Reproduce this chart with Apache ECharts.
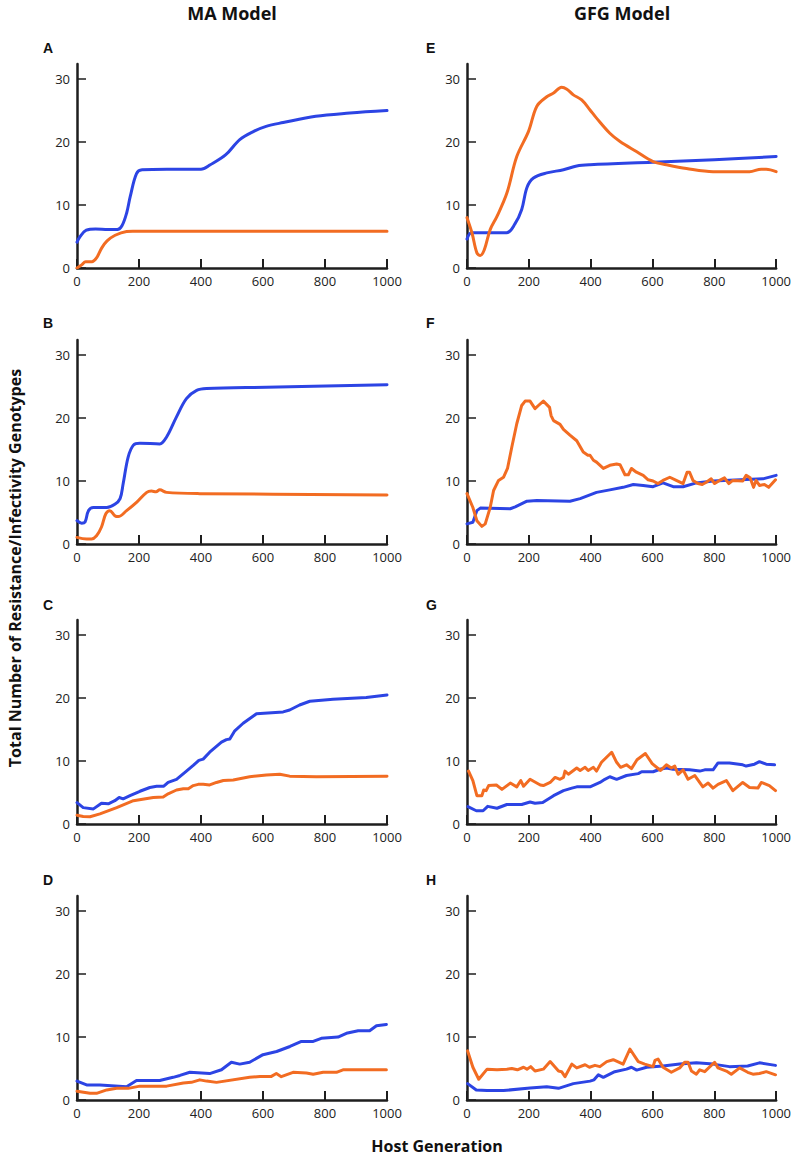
<!DOCTYPE html>
<html>
<head>
<meta charset="utf-8">
<script src="https://cdn.jsdelivr.net/npm/echarts@6/dist/echarts.min.js"></script>
<style>
html,body{margin:0;padding:0;background:#fff;}
#chart{width:794px;height:1160px;}
</style>
</head>
<body>
<div id="chart"></div>
<script>
// ---- Data: [host generation, number of genotypes] ----
const xTicks = [0, 200, 400, 600, 800, 1000];
const yTicks = [0, 10, 20, 30];
const panelLetters = ['A', 'B', 'C', 'D', 'E', 'F', 'G', 'H'];
const columnTitles = ['MA Model', 'GFG Model'];
const yTitle = 'Total Number of Resistance/Infectivity Genotypes';
const xTitle = 'Host Generation';

// MA model
const A_blue = [[0,4.1],[10,5.0],[30,6.0],[60,6.2],[100,6.1],[130,6.1],[145,6.7],[160,8.7],[172,11.4],[192,15.0],[210,15.6],[290,15.7],[350,15.7],[400,15.7],[430,16.4],[480,18.0],[525,20.4],[570,21.7],[610,22.5],[665,23.1],[770,24.1],[880,24.6],[1000,25.0]];
const A_orange = [[0,0],[15,0.5],[28,1.0],[48,1.0],[63,1.6],[80,3.2],[97,4.3],[123,5.2],[160,5.8],[180,5.85],[1000,5.85]];

const B_blue = [[0,3.7],[15,3.3],[26,3.5],[37,5.3],[53,5.8],[96,5.8],[122,6.3],[139,7.2],[149,9.6],[165,13.8],[182,15.7],[203,16.0],[267,15.9],[289,17.0],[321,20.2],[353,23.1],[386,24.4],[418,24.7],[611,24.9],[1000,25.3]];
const B_orange = [[0,1.06],[31,0.8],[47,0.8],[63,1.3],[79,2.7],[93,4.8],[106,5.3],[122,4.5],[133,4.35],[160,5.3],[192,6.6],[225,8.2],[240,8.4],[255,8.3],[267,8.6],[289,8.2],[396,8.0],[1000,7.8]];

const C_blue = [[0,3.4],[20,2.6],[53,2.4],[79,3.3],[101,3.2],[122,3.7],[136,4.2],[149,4.0],[171,4.5],[203,5.2],[235,5.8],[257,6.0],[280,6.0],[294,6.6],[321,7.1],[353,8.4],[375,9.3],[393,10.1],[407,10.3],[428,11.4],[466,13.0],[482,13.4],[493,13.5],[509,14.8],[536,16.0],[579,17.5],[665,17.8],[686,18.1],[718,18.9],[751,19.5],[826,19.8],[933,20.1],[1000,20.5]];
const C_orange = [[0,1.4],[20,1.2],[42,1.16],[74,1.6],[128,2.6],[182,3.7],[246,4.2],[278,4.3],[294,4.8],[321,5.4],[343,5.6],[359,5.6],[375,6.1],[391,6.3],[407,6.3],[428,6.2],[450,6.6],[472,6.9],[504,7.0],[557,7.5],[611,7.8],[654,7.9],[686,7.6],[772,7.5],[1000,7.6]];

const D_blue = [[0,3.0],[31,2.4],[74,2.4],[160,2.1],[192,3.1],[267,3.1],[310,3.6],[332,3.9],[364,4.4],[428,4.2],[466,4.8],[498,6.0],[525,5.7],[557,6.0],[600,7.2],[644,7.7],[687,8.5],[724,9.3],[762,9.3],[788,9.8],[842,10.0],[869,10.6],[907,11.0],[944,11.0],[966,11.8],[998,12.0]];
const D_orange = [[0,1.4],[42,1.06],[63,1.06],[96,1.6],[128,1.85],[165,1.85],[203,2.2],[289,2.2],[343,2.7],[369,2.8],[396,3.2],[418,3.0],[450,2.8],[557,3.6],[590,3.75],[627,3.75],[643,4.2],[659,3.7],[697,4.4],[740,4.3],[762,4.1],[794,4.4],[837,4.4],[858,4.8],[998,4.8]];

// GFG model
const E_blue = [[0,4.6],[15,5.6],[128,5.6],[155,7.0],[177,9.3],[194,12.8],[215,14.3],[258,15.1],[312,15.6],[355,16.2],[398,16.4],[600,16.8],[800,17.2],[1000,17.7]];
const E_orange = [[0,8.0],[16,5.6],[32,2.4],[43,2.0],[56,2.9],[75,6.1],[97,8.2],[129,11.9],[161,17.7],[199,21.7],[226,25.7],[258,27.2],[280,27.8],[306,28.7],[323,28.4],[344,27.5],[371,26.7],[398,25.1],[419,23.8],[462,21.4],[495,20.1],[548,18.5],[602,16.9],[645,16.4],[710,15.8],[796,15.3],[914,15.3],[952,15.7],[968,15.7],[1000,15.3]];

const F_blue = [[0,3.2],[19,3.45],[32,5.3],[43,5.7],[140,5.6],[156,5.9],[194,6.8],[226,6.9],[333,6.8],[366,7.2],[419,8.2],[462,8.6],[505,9.0],[538,9.45],[570,9.3],[602,9.1],[634,9.7],[667,9.1],[699,9.1],[742,9.7],[796,10.0],[903,10.25],[957,10.35],[1000,10.9]];
const F_orange = [[0,8.0],[19,5.8],[32,3.7],[48,2.8],[59,3.2],[75,5.8],[86,8.5],[102,10.1],[118,10.6],[131,12.0],[145,15.4],[161,19.1],[177,22.0],[188,22.7],[204,22.7],[220,21.5],[231,22.0],[247,22.7],[267,21.7],[272,20.4],[280,19.6],[301,19.0],[312,18.2],[333,17.3],[355,16.4],[376,14.6],[391,14.1],[398,14.1],[409,13.3],[419,13.0],[441,12.0],[462,12.5],[484,12.7],[495,12.6],[511,11.0],[522,11.0],[532,12.0],[548,11.4],[570,10.9],[586,10.2],[602,10.0],[618,9.6],[634,10.1],[656,10.6],[677,10.1],[699,9.6],[712,11.4],[720,11.4],[731,10.1],[747,9.6],[761,9.45],[774,9.8],[790,10.35],[801,9.6],[817,10.1],[833,10.5],[847,9.6],[860,10.1],[892,10.0],[903,10.9],[916,10.5],[927,9.0],[935,10.1],[946,9.3],[962,9.45],[976,9.0],[998,10.2]];

const G_blue = [[3,2.75],[30,2.1],[52,2.1],[67,2.8],[97,2.5],[129,3.1],[177,3.1],[204,3.5],[220,3.3],[245,3.4],[280,4.5],[312,5.3],[339,5.7],[355,5.9],[398,5.9],[430,6.6],[446,7.1],[462,7.5],[484,7.1],[516,7.7],[554,8.0],[565,8.3],[602,8.3],[624,8.7],[645,8.9],[667,8.7],[720,8.6],[753,8.4],[769,8.6],[796,8.6],[812,9.7],[849,9.7],[892,9.4],[903,9.2],[930,9.5],[946,9.9],[968,9.5],[995,9.4]];
const G_orange = [[5,8.4],[19,6.9],[32,4.5],[48,4.5],[54,5.4],[62,5.3],[70,6.1],[95,6.2],[113,5.5],[140,6.5],[161,5.9],[174,6.9],[183,6.0],[204,7.1],[237,6.2],[247,6.1],[269,6.6],[285,7.4],[301,7.1],[312,7.4],[317,8.4],[328,7.9],[355,8.9],[366,8.5],[382,9.0],[392,8.5],[409,9.0],[419,8.4],[435,9.8],[468,11.4],[484,9.8],[497,9.0],[516,9.4],[532,8.8],[550,10.2],[577,11.2],[599,9.6],[626,8.5],[645,9.4],[661,8.9],[672,9.2],[683,7.9],[699,8.6],[715,7.1],[737,7.7],[763,5.9],[780,6.5],[796,5.7],[812,6.3],[839,6.9],[860,5.3],[892,6.6],[914,5.8],[941,5.7],[952,6.6],[978,6.1],[998,5.3]];

const H_blue = [[2,2.6],[30,1.6],[65,1.5],[118,1.5],[204,1.9],[258,2.1],[296,1.85],[344,2.6],[398,3.0],[411,3.2],[425,4.0],[441,3.6],[457,4.0],[478,4.5],[516,4.9],[532,5.2],[549,4.75],[581,5.2],[634,5.4],[688,5.7],[742,5.9],[796,5.7],[849,5.3],[908,5.4],[946,5.9],[998,5.5]];
const H_orange = [[2,7.8],[19,5.2],[38,3.3],[65,4.9],[97,4.8],[129,4.9],[145,5.0],[163,4.8],[183,5.2],[194,4.9],[206,5.3],[220,4.6],[247,4.9],[269,6.1],[296,4.6],[306,4.5],[317,3.7],[339,5.7],[355,5.1],[382,5.6],[396,5.2],[414,5.5],[430,5.3],[452,6.1],[473,6.4],[505,5.7],[527,8.1],[554,6.1],[575,5.7],[602,5.3],[608,6.3],[618,6.5],[634,5.2],[661,4.4],[688,5.1],[704,6.0],[715,6.0],[726,4.6],[742,4.1],[753,4.8],[769,4.5],[801,6.0],[812,5.1],[839,4.6],[855,4.1],[882,5.1],[908,4.4],[925,4.1],[946,4.2],[968,4.5],[998,4.0]];

const panelSeries = [
  [A_blue, A_orange, 0.35], [B_blue, B_orange, 0.35], [C_blue, C_orange, 0], [D_blue, D_orange, 0],
  [E_blue, E_orange, 0.35], [F_blue, F_orange, 0], [G_blue, G_orange, 0], [H_blue, H_orange, 0]
];

// ---- Layout / style ----
const BLUE = '#2c44e4';
const ORANGE = '#f26c22';
const AXIS = '#1e1e1e';
const colLeft = [77, 467];
const rowTop = [64, 340, 620, 896];
const gridW = 310, gridH = 204;

const grids = [], xAxes = [], yAxes = [], series = [], graphics = [];
panelLetters.forEach((letter, i) => {
  const col = Math.floor(i / 4), row = i % 4;
  grids.push({left: colLeft[col], top: rowTop[row], width: gridW, height: gridH});
  xAxes.push({
    type: 'value', gridIndex: i, min: 0, max: 1000, interval: 200,
    axisLine: {show: true, onZero: false, lineStyle: {color: AXIS, width: 2.5}},
    axisTick: {show: true, inside: true, length: 9, lineStyle: {color: AXIS, width: 2}, customValues: xTicks},
    axisLabel: {show: true, margin: 6, color: '#222', fontFamily: 'Open Sans', fontSize: 13, customValues: xTicks, showMinLabel: true, showMaxLabel: true, formatter: v => String(v)},
    splitLine: {show: false}
  });
  yAxes.push({
    type: 'value', gridIndex: i, min: 0, max: 32.4, interval: 10,
    axisLine: {show: true, onZero: false, lineStyle: {color: AXIS, width: 2.5}},
    axisTick: {show: true, inside: true, length: 9, lineStyle: {color: AXIS, width: 1.5}, customValues: yTicks},
    axisLabel: {show: true, margin: 7, color: '#222', fontFamily: 'Open Sans', fontSize: 13, customValues: yTicks, formatter: v => String(v)},
    splitLine: {show: false}
  });
  const [blue, orange, sm] = panelSeries[i];
  series.push({
    type: 'line', xAxisIndex: i, yAxisIndex: i, data: blue, showSymbol: false, smooth: sm,
    lineStyle: {color: BLUE, width: 3, join: 'round', cap: 'round'}, z: 3, animation: false
  });
  series.push({
    type: 'line', xAxisIndex: i, yAxisIndex: i, data: orange, showSymbol: false, smooth: sm,
    lineStyle: {color: ORANGE, width: 3, join: 'round', cap: 'round'}, z: 4, animation: false
  });
  const letterX = col === 0 ? 43 : 426;
  const letterY = [48, 323, 605, 880][row];
  graphics.push({
    type: 'text', x: letterX, y: letterY,
    style: {text: letter, font: 'bold 14px "Liberation Sans", Arial, sans-serif', fill: '#111', textAlign: 'left', textVerticalAlign: 'middle'}
  });
});

graphics.push({type: 'text', x: 232, y: 13, style: {text: columnTitles[0], font: 'bold 18px "Open Sans", sans-serif', fill: '#111', textAlign: 'center', textVerticalAlign: 'middle'}});
graphics.push({type: 'text', x: 622, y: 13, style: {text: columnTitles[1], font: 'bold 18px "Open Sans", sans-serif', fill: '#111', textAlign: 'center', textVerticalAlign: 'middle'}});
graphics.push({type: 'text', x: 15, y: 568, rotation: Math.PI / 2, style: {text: yTitle, font: 'bold 16px "Open Sans", sans-serif', fill: '#111', textAlign: 'center', textVerticalAlign: 'middle'}});
graphics.push({type: 'text', x: 437, y: 1146, style: {text: xTitle, font: 'bold 16px "Open Sans", sans-serif', fill: '#111', textAlign: 'center', textVerticalAlign: 'middle'}});

const chart = echarts.init(document.getElementById('chart'), null, {renderer: 'svg'});
chart.setOption({
  backgroundColor: '#fff',
  animation: false,
  grid: grids,
  xAxis: xAxes,
  yAxis: yAxes,
  series: series,
  graphic: graphics
});
</script>
</body>
</html>
